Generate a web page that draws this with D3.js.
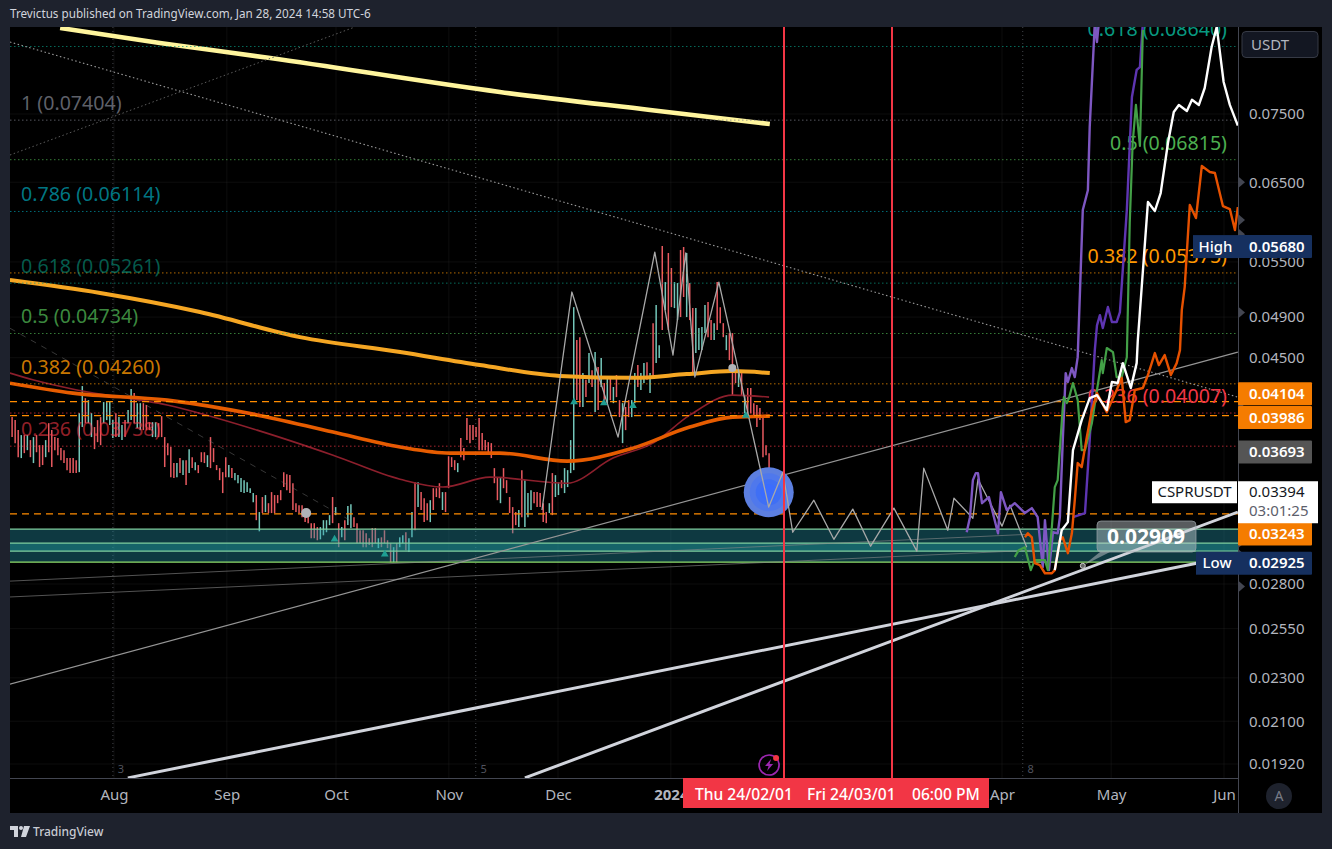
<!DOCTYPE html>
<html><head><meta charset="utf-8">
<script src="https://cdn.jsdelivr.net/npm/d3@7/dist/d3.min.js"></script>
<style>html,body{margin:0;padding:0;background:#1e222d;overflow:hidden}svg{display:block}text{font-family:"Noto Sans",sans-serif}</style>
</head><body><svg id="c" width="1332" height="849"></svg>
<script>
// Time is in days since 1 Aug 2023, prices in USDT.
const monthTicks=[{d:0,t:"Aug"},{d:31,t:"Sep"},{d:61,t:"Oct"},{d:92,t:"Nov"},{d:122,t:"Dec"},{d:153,t:"2024",b:1},{d:244,t:"Apr"},{d:274,t:"May"},{d:305,t:"Jun"}];
const priceTicks=[0.075,0.065,0.055,0.049,0.045,0.028,0.0255,0.023,0.021,0.0192];
const candleFirstDay=-28, candleLastDay=180;
const candles=[[.03973,.0381],[.03948,.03762],[.03866,.03653],[.03826,.03646],[.03826,.03684],[.03826,.03707],[.03786,.03653],[.0381,.03608],[.03826,.03691],[.03746,.03578],
[.03746,.03593],[.03786,.03653],[.03923,.03691],[.03866,.03578],[.0381,.03707],[.03802,.03668],[.03723,.0363],[.03707,.03608],[.03646,.03555],[.03646,.03533],
[.03646,.03533],[.0363,.03533],[.04006,.0354],[.0424,.03891],[.04134,.03923],[.04117,.03923],[.04006,.0381],[.03891,.03715],[.03948,.0377],[.03973,.03746],
[.041,.03923],[.041,.03948],[.041,.03907],[.03948,.03802],[.04006,.0381],[.03973,.0381],[.03907,.03786],[.03948,.0381],[.04032,.03923],[.04213,.03948],
[.04178,.03923],[.04091,.03883],[.04091,.03866],[.04091,.03866],[.04075,.03866],[.03931,.03866],[.03931,.0381],[.03931,.0381],[.03923,.0381],[.03981,.0381],
[.0381,.03578],[.03762,.03668],[.03731,.03503],[.03608,.03496],[.03608,.03503],[.03646,.03533],[.0363,.03518],[.0363,.03445],[.03715,.03533],[.03653,.0357],
[.03615,.03555],[.03593,.03533],[.03691,.03615],[.03691,.03608],[.03668,.03578],[.0381,.0357],[.03723,.03615],[.03593,.03555],[.0357,.03481],[.0354,.03388],
[.03653,.03503],[.03593,.03503],[.0357,.03496],[.03533,.03481],[.03518,.03459],[.03496,.03395],[.03481,.03388],[.03466,.03395],[.03423,.03388],[.03388,.03324],
[.03374,.03201],[.03256,.03127],[.0336,.03249],[.03374,.03256],[.03317,.03249],[.03395,.03249],[.03374,.03249],[.03374,.03317],[.03409,.03338],[.0354,.03431],
[.03525,.03409],[.03518,.03388],[.03459,.0327],[.03317,.03256],[.03303,.03249],[.03303,.03221],[.03256,.03188],[.03256,.03181],[.03181,.03082],[.03181,.03082],
[.03155,.03069],[.03155,.03075],[.03201,.03101],[.03201,.03121],[.03235,.03168],[.0336,.03181],[.0329,.03235],[.03181,.03025],[.03155,.03088],[.03201,.03069],
[.03297,.03168],[.0331,.03148],[.03221,.03155],[.03181,.0305],[.03134,.0305],[.03134,.03025],[.03114,.03025],[.03082,.03038],[.03148,.03025],[.03148,.0305],
[.03082,.03019],[.03088,.03025],[.03134,.0305],[.03069,.03019],[.0305,.02931],[.03025,.02931],[.0305,.02931],[.03088,.03025],[.03101,.0305],[.03121,.03006],
[.03082,.02994],[.03256,.03088],[.03466,.03134],[.03466,.0329],[.03395,.0327],[.03352,.03188],[.03317,.03201],[.03338,.03188],[.03423,.0327],[.03423,.0336],
[.03459,.03352],[.03395,.0327],[.03395,.03256],[.0366,.03423],[.03653,.03578],[.0363,.03555],[.03608,.0354],[.03802,.03653],[.03723,.0363],[.03965,.03786],
[.03907,.03762],[.03907,.03786],[.03891,.0381],[.03965,.03707],[.03842,.03707],[.03786,.03707],[.0377,.03684],[.03762,.03646],[.0357,.03459],[.03503,.03338],
[.03503,.03317],[.0357,.03423],[.03481,.03388],[.0336,.03249],[.0329,.03114],[.03256,.03168],[.0327,.03155],[.03555,.03221],[.03481,.03155],[.03388,.03221],
[.03409,.0327],[.03395,.03317],[.03395,.0329],[.03388,.0329],[.03317,.03188],[.03256,.03181],[.03317,.03249],[.03533,.03235],[.03518,.0336],[.03466,.03374],
[.03481,.03423],[.0357,.03388],[.03555,.03431],[.03786,.03533],[.05003,.03555],[.04669,.04117],[.04698,.04058],[.04357,.04058],[.04296,.04143],[.04544,.04267],
[.04383,.04232],[.04553,.04015],[.04412,.04032],[.04496,.04232],[.04267,.04117],[.04321,.04091],[.04321,.04117],[.04232,.04091],[.04339,.04143],[.04117,.03973],
[.04091,.03762],[.04058,.03866],[.04117,.03973],[.04117,.03973],[.04357,.04091],[.04431,.04232],[.04357,.04205],[.04449,.04267],[.04458,.04296],[.04357,.04178],
[.04838,.04321],[.05025,.04449],[.0462,.04496],[.05687,.04768],[.05273,.04972],[.05604,.04768],[.05431,.05003],[.05273,.04993],[.05262,.04869],[.05639,.049],
[.05675,.0511],[.05604,.049],[.05262,.04869],[.04993,.04357],[.04993,.04544],[.04788,.04572],[.04798,.04572],[.05025,.04738],[.05056,.04698],[.04869,.04669],
[.04838,.04669],[.05273,.04768],[.05003,.04838],[.04838,.04698],[.04718,.04572],[.04738,.04477],[.04738,.0416],[.04403,.04267],[.04366,.04232],[.04357,.0416],
[.0416,.04006],[.04223,.03965],[.04223,.04006],[.04091,.03973],[.04075,.03891],[.04049,.03948],[.03973,.03653],[.03746,.03668],[.03684,.03303]];
const candleDirs=["dddudududdduddddddddddu","uduuddduuuuduuduuduuddduudd","ddddududududdduddddddudu","uuuuuudududdddddddddddddd","dduuuudududuudddddddduddd","duduuduududdduddduddddudd",
"dddddddddddudddddudu","uudddddudu","uduuuuddud","ududududud","dudduuduud","uduududduu","ddudduuuud","dudddudddu","duddddddd"].join("").split("");
const yellowMA=[[-14.8,.08982],[12.6,.08704],[42.9,.08434],[106,.07854],[147.3,.07563],[180.2,.07344]];
const goldMA=[[-28.6,.05295],[-3.8,.05153],[23.6,.04952],[51.1,.04698],[78.6,.04553],[100.5,.04431],[122.5,.04331],[142.6,.04314],[157.4,.04348],[170,.04375],[180.2,.04357]];
const orangeMA=[[-28.6,.04266],[-11.3,.04178],[14.6,.04117],[38.2,.03998],[60.2,.0385],[78.6,.03731],[92.3,.03684],[106,.03684],[124.5,.03623],[142.6,.03723],[158.2,.03891],[170,.03973],[180.2,.03981]];
const darkRedMA=[[-28.6,.04357],[-22.3,.04296],[-10.2,.04205],[14.6,.04075],[39.3,.03866],[60.2,.03668],[78.6,.03488],[90.4,.03431],[103.3,.03503],[124.5,.03459],[137.1,.03646],[148.1,.03762],[158.2,.03989],[170,.0416],[180,.04143]];
const zigzag=[[117.6,.0327],[125.8,.05164],[138.5,.0381],[148.6,.05615],[153.6,.04525],[157.1,.05604],[159.6,.04321],[166.2,.05273],[179.9,.0329],[183.8,.0354],[186.5,.03121],[192.3,.03338],[197.8,.03075],[203,.03276],[207.9,.03031],[214.3,.03283],[220.6,.03],[222.5,.0357],[229.1,.03134],[230.8,.03352],[236,.03214],[237.4,.03488],[244,.03161],[246.2,.03303],[250.8,.03025]];
const purpleA=[[234.3,.03121],[235.2,.03221],[236,.03481],[236.8,.03533],[237.4,.03533],[238.5,.03317],[240.4,.0336],[242.9,.03114],[243.7,.03395],[245.3,.0327],[247.5,.03317],[250.3,.03249],[252.2,.03283],[253.8,.03221],[255.2,.02901],[255.8,.03201],[256.9,.02883],[258,.03121],[259.3,.03114],[259.9,.03221],[260.7,.03786],[261.5,.04357],[262.1,.04276],[263.2,.04403],[264,.04321],[264.8,.04505],[266.2,.06132],[267.6,.06392],[268.1,.07298],[269.5,.09076],[270.1,.08722],[270.6,.09076]];
const purpleB=[[263.5,.03221],[266.8,.03249],[268.1,.03786],[269.5,.04572],[270.1,.04816],[270.9,.0492],[271.7,.04788],[273.1,.05004],[274.2,.04849],[275.5,.04849],[276.4,.04952],[278.3,.06132],[279.7,.07772],[281,.08225],[281.9,.08276],[282.7,.09076]];
const greenPath=[[247.5,.02963],[248.6,.03006],[250.3,.03025],[251.9,.02883],[253,.02944],[255.8,.02944],[256.6,.02883],[257.7,.03155],[258.5,.03431],[259.3,.03481],[260.7,.04058],[261,.04143],[261.8,.04091],[262.4,.04134],[263.5,.04267],[264.8,.04117],[265.9,.03707],[266.8,.03707],[268.7,.03923],[270.1,.04205],[271.4,.04477],[271.7,.04357],[272.8,.04592],[274.5,.04553],[275.5,.04321],[276.9,.04321],[278.3,.04505],[279.1,.05967],[279.9,.07058],[280.8,.07644],[281.9,.07014],[282.7,.08945]];
const orangePath=[[250.3,.03088],[251.1,.03114],[252.2,.03088],[253,.02925],[254.4,.02913],[255.8,.02864],[257.7,.02864],[258.5,.02883],[259.9,.03069],[260.7,.03088],[262.1,.02987],[263.2,.03114],[264,.03338],[264.8,.03608],[265.9,.03578],[267.3,.0381],[268.7,.04032],[270.1,.04178],[272.8,.04015],[275.5,.04205],[276.9,.04314],[278,.03931],[279.1,.03948],[280.5,.04205],[282.7,.04223],[284.1,.04339],[286,.04544],[287.1,.04431],[288.7,.04525],[290.4,.04339],[292,.04449],[292.9,.04572],[293.4,.04972],[294.2,.05218],[295.6,.06197],[297.3,.0603],[298.9,.06725],[301.1,.06642],[302.5,.06628],[304.7,.06184],[306.6,.06145],[308,.05881],[308.8,.06171]];
const whitePath=[[258.5,.02883],[260.4,.03134],[262.1,.03188],[263.5,.03707],[265.9,.03948],[268.1,.04134],[270.1,.0416],[272.8,.04032],[274.2,.04276],[275.8,.04267],[277.2,.04449],[279.4,.04223],[281,.04449],[281.3,.04658],[284.1,.06236],[286,.0612],[287.6,.06355],[289.6,.07058],[291.2,.07532],[292.6,.07644],[294.8,.07548],[296.2,.07726],[298.1,.07644],[299.7,.0792],[301.6,.08631],[303,.09001],[304.9,.0802],[306.6,.07644],[308.8,.0732]];
const thickLineA=[[3.8,.01865],[297.5,.02925]], thickLineB=[[112.9,.01865],[308.8,.03256]], thinLineC=[[-28.6,.0227],[308.8,.04553]];
const dottedLineA=[[-28.6,.08722],[308.8,.04143]], dottedLineB=[[-28.6,.06882],[66.2,.09001]];
const greyLineA=[[-28.6,.02817],[251.6,.03108]], greyLineB=[[-28.6,.02725],[253,.03006]], dashedDim=[[-28.6,.04787],[64.8,.03201]];
const fibLeft=[{r:"1",p:.07404,c:"#787b86"},{r:"0.786",p:.06114,c:"#0097a7"},{r:"0.618",p:.05261,c:"#089981"},{r:"0.5",p:.04734,c:"#4caf50"},{r:"0.382",p:.0426,c:"#ff9800"},{r:"0.236",p:.03738,c:"#f23645"}];
const fibRight=[{r:"0.618",p:.0864,c:"#089981"},{r:"0.5",p:.06815,c:"#4caf50"},{r:"0.382",p:.05375,c:"#ff9800"},{r:"0.236",p:.04007,c:"#f23645"}];
const dashedLevels=[.04104,.03986,.03243];
const zonePrices=[.03141,.0305,.03,.02931];
const redLineDays=[184,213.75];
const sessionBreaks=[{d:-0.3,t:"3"},{d:99.4,t:"5"},{d:249.7,t:"8"}];
const triangleMarks=[[60.6,.03075],[74.4,.0298],[126.4,.04101],[134.6,.04093],[142.6,.04068],[173.6,.03986]];
const circleMarks=[[52.8,.0325,5],[169.9,.04403,4]];
const axisTriangles=[.0650,.06005,.0583,.0568,.04947,.04083,.03998,.03174,.03057,.02975,.02895,.02785];

const W=1332,H=849,L=10,R=1238,T=27,B=778;
const x=d3.scaleLinear().domain([0,305]).range([114,1224]);
const y=d3.scaleLog().domain([.075,.0192]).range([114,764]);
const candleX=d3.scaleLinear().domain([0,candles.length-1]).range([x(candleFirstDay),x(candleLastDay)]);
const svg=d3.select("#c");
svg.append("rect").attr("width",W).attr("height",H).attr("fill","#1e222d");
svg.append("rect").attr("x",L).attr("y",T).attr("width",1322-L).attr("height",813-T).attr("fill","#000");
svg.append("defs").append("clipPath").attr("id","pl").append("rect").attr("x",L).attr("y",T).attr("width",R-L).attr("height",B-T);
const g=svg.append("g").attr("clip-path","url(#pl)");
// grid
g.selectAll(".gy").data(priceTicks).join("line").attr("x1",L).attr("x2",R).attr("y1",d=>y(d)).attr("y2",d=>y(d)).attr("stroke","#fff").attr("stroke-opacity",.05);
g.selectAll(".gx").data(monthTicks).join("line").attr("x1",d=>x(d.d)).attr("x2",d=>x(d.d)).attr("y1",T).attr("y2",B).attr("stroke","#fff").attr("stroke-opacity",.05);
g.selectAll(".sb").data(sessionBreaks).join("line").attr("x1",d=>x(d.d)).attr("x2",d=>x(d.d)).attr("y1",T).attr("y2",B).attr("stroke","#787b86").attr("stroke-opacity",.55).attr("stroke-dasharray","1 3");
g.selectAll(".sbt").data(sessionBreaks).join("text").attr("x",d=>x(d.d)+8).attr("y",d=>773).attr("fill","#50535e").attr("font-size",11).attr("text-anchor","middle").text(d=>d.t);
// candles
g.selectAll(".cd").data(candles).join("line").attr("x1",(d,i)=>candleX(i)).attr("x2",(d,i)=>candleX(i)).attr("y1",d=>y(d[0])).attr("y2",d=>y(d[1]))
 .attr("stroke",(d,i)=>candleDirs[i]==="u"?"#74c7ba":"#e85a60").attr("stroke-width",1.5);
const line=d3.line().x(d=>x(d[0])).y(d=>y(d[1]));
const smooth=d3.line().x(d=>x(d[0])).y(d=>y(d[1])).curve(d3.curveMonotoneX);
function path(data,color,w,extra,gen){const p=g.append("path").attr("d",(gen||line)(data)).attr("fill","none").attr("stroke",color).attr("stroke-width",w).attr("stroke-linejoin","round");if(extra)extra(p);return p;}
path(dashedDim,"#777",1,p=>p.attr("stroke-dasharray","6 6").attr("stroke-opacity",.45));
path(darkRedMA,"#8c1f2c",1.6,null,smooth);
path(orangeMA,"#e65c00",3.6,null,smooth);
path(goldMA,"#f5a623",4,null,smooth);
path(yellowMA,"#fff59d",4.6,null,smooth);
// zone
const zx=L,zw=R-L;
g.append("rect").attr("x",zx).attr("width",zw).attr("y",y(zonePrices[0])).attr("height",y(zonePrices[3])-y(zonePrices[0])).attr("fill","rgb(38,150,170)").attr("fill-opacity",.38);
g.append("rect").attr("x",zx).attr("width",zw).attr("y",y(zonePrices[1])).attr("height",y(zonePrices[2])-y(zonePrices[1])).attr("fill","rgb(38,170,170)").attr("fill-opacity",.38);
g.selectAll(".zl").data(zonePrices).join("line").attr("x1",zx).attr("x2",R).attr("y1",d=>y(d)).attr("y2",d=>y(d)).attr("stroke",(d,i)=>i===3?"#8fdc6a":"#7fcf9f").attr("stroke-width",1.3);
// fib levels
[...fibLeft,...fibRight].forEach(f=>g.append("line").attr("x1",L).attr("x2",R).attr("y1",y(f.p)).attr("y2",y(f.p)).attr("stroke",f.c).attr("stroke-dasharray","1.5 2.5").attr("stroke-opacity",.7));
g.selectAll(".dl").data(dashedLevels).join("line").attr("x1",L).attr("x2",R).attr("y1",d=>y(d)).attr("y2",d=>y(d)).attr("stroke","#ff8c00").attr("stroke-width",1.3).attr("stroke-dasharray","7 5");
// trend lines
path(dottedLineA,"#9a9a9a",1.1,p=>p.attr("stroke-dasharray","1.5 2.5"));
path(dottedLineB,"#5c5c5c",1,p=>p.attr("stroke-dasharray","1.5 2.5"));
path(greyLineA,"#8a8a8a",1,p=>p.attr("stroke-opacity",.6));
path(greyLineB,"#8a8a8a",1,p=>p.attr("stroke-opacity",.6));
path(thinLineC,"#959595",1.2);
// blue circle sits on the last price
const blue=[redLineDays[0]-4.1,.03394];
[[25,"#5c7fe0"],[19,"#4f78ec"],[13,"#3f6ff5"],[8,"#3a6cff"]].forEach(c=>g.append("circle").attr("cx",x(blue[0])).attr("cy",y(blue[1])).attr("r",c[0]).attr("fill",c[1]));
// fib labels
fibLeft.forEach(f=>g.append("text").attr("x",21).attr("y",y(f.p)-17).attr("dy",".35em").attr("font-size",19.6).attr("fill",f.c).attr("fill-opacity",f.r==="0.236"?.62:(f.r==="1"?.8:(f.r==="0.618"?.6:.8))).text(`${f.r} (${f.p.toFixed(5)})`));
fibRight.forEach(f=>g.append("text").attr("x",1227).attr("y",y(f.p)-17).attr("dy",".35em").attr("text-anchor","end").attr("font-size",19.6).attr("fill",f.c).text(`${f.r} (${f.p.toFixed(5)})`));
// zigzag and coloured projections
path(zigzag,"#a9a9a9",1.3);
path(purpleA,"#7e57c2",2.4);
path(purpleB,"#5e35b1",2.4);
path(greenPath,"#43a047",2.2);
path(orangePath,"#e65100",2.4);
path(whitePath,"#ffffff",2.4);
// markers
g.selectAll(".tr").data(triangleMarks).join("path").attr("d",d3.symbol(d3.symbolTriangle,26)).attr("transform",d=>`translate(${x(d[0])},${y(d[1])})`).attr("fill","#1f9e92");
g.selectAll(".cm").data(circleMarks).join("circle").attr("cx",d=>x(d[0])).attr("cy",d=>y(d[1])).attr("r",d=>d[2]).attr("fill","#b0b3b8");
// thick lines
path(thickLineB,"#d1d4dc",3);
path(thickLineA,"#d1d4dc",3);
// red lines (snapped to whole pixels so they stay crisp)
g.selectAll(".rl").data(redLineDays).join("line").attr("x1",d=>Math.round(x(d))).attr("x2",d=>Math.round(x(d))).attr("y1",T).attr("y2",B).attr("stroke","#f23645").attr("stroke-width",2);
// callout
g.append("path").attr("d",d3.line()([[x(266.2),y(.02909)],[1110,552],[1100,552]])).attr("fill","#b5bcc0").attr("fill-opacity",.55);
g.append("circle").attr("cx",x(266.2)).attr("cy",y(.02909)).attr("r",2.5).attr("fill","#666").attr("stroke","#ccc");
g.append("rect").attr("x",1097).attr("y",521).attr("width",99).attr("height",31).attr("rx",4).attr("fill","#c4cdd1").attr("fill-opacity",.45).attr("stroke","#9aa3a8").attr("stroke-opacity",.7);
g.append("text").attr("x",1146).attr("y",536.5).attr("dy",".35em").attr("text-anchor","middle").attr("font-size",21).attr("font-weight",700).attr("fill","#fff").text("0.02909");
// lightning icon
const ic=g.append("g").attr("transform",`translate(${x(180)},765)`);
ic.append("circle").attr("r",10).attr("fill","none").attr("stroke","#9c27b0").attr("stroke-width",1.7);
ic.append("path").attr("d","M2-6 L-4 1 L-0.5 1 L-2 6 L4 -1 L0.5 -1 Z").attr("fill","#9c27b0");
ic.append("circle").attr("cx",7).attr("cy",-7).attr("r",3).attr("fill","#f23645");
// axes frames
svg.append("line").attr("x1",L).attr("x2",R).attr("y1",B+.5).attr("y2",B+.5).attr("stroke","#434651");
svg.append("line").attr("x1",R+.5).attr("x2",R+.5).attr("y1",T).attr("y2",813).attr("stroke","#434651");
// price axis
const yAxis=d3.axisRight(y).tickValues(priceTicks).tickFormat(d=>d.toFixed(5)).tickSize(0).tickPadding(11);
const ya=svg.append("g").attr("transform",`translate(${R},0)`).call(yAxis);
ya.select(".domain").remove();
ya.selectAll("text").attr("font-size",15).attr("fill","#b2b5be").style("font-family",'"Noto Sans",sans-serif');
svg.selectAll(".at").data(axisTriangles).join("path").attr("d",d=>`M${R},${y(d)-6}L${R+7},${y(d)}L${R},${y(d)+6}Z`).attr("fill","#434651");
// time axis
const xAxis=d3.axisBottom(x).tickValues(monthTicks.map(d=>d.d)).tickFormat(d=>monthTicks.find(m=>m.d===d).t).tickSize(0).tickPadding(11);
const xa=svg.append("g").attr("transform",`translate(0,${B})`).call(xAxis);
xa.select(".domain").remove();
xa.selectAll("text").attr("font-size",15).attr("fill","#b2b5be").style("font-family",'"Noto Sans",sans-serif').attr("font-weight",d=>d===153?700:400);
// red time label
svg.append("rect").attr("x",683).attr("y",778).attr("width",306).attr("height",30).attr("fill","#f23645");
[["Thu 24/02/01",695],["Fri 24/03/01",807],["06:00 PM",912]].forEach(t=>svg.append("text").attr("x",t[1]).attr("y",795).attr("dy",".35em").attr("font-size",15.6).attr("font-weight",500).attr("fill","#fff").text(t[0]));
// price pills
const pills=[{p:.0568,t:"0.05680",f:"#16305f",c:"#fff",dy:0},{p:.04104,t:"0.04104",f:"#f57c00",c:"#fff",dy:-8},{p:.03986,t:"0.03986",f:"#f57c00",c:"#fff",dy:2},{p:.03693,t:"0.03693",f:"#555555",c:"#fff",dy:0},{p:.03243,t:"0.03243",f:"#f57c00",c:"#fff",dy:20},{p:.02925,t:"0.02925",f:"#16305f",c:"#fff",dy:0}];
pills.forEach(q=>{const cy=y(q.p)+q.dy;svg.append("rect").attr("x",R).attr("y",cy-11.5).attr("width",74).attr("height",23).attr("rx",1).attr("fill",q.f);
 svg.append("text").attr("x",R+11).attr("y",cy).attr("dy",".35em").attr("font-size",15).attr("font-weight",600).attr("fill",q.c).text(q.t);});
[{t:"High",p:.0568,x0:1193},{t:"Low",p:.02925,x0:1196}].forEach(q=>{svg.append("rect").attr("x",q.x0).attr("y",y(q.p)-11.5).attr("width",R-q.x0).attr("height",23).attr("fill","#16305f");
 svg.append("text").attr("x",(q.x0+R)/2).attr("y",y(q.p)).attr("dy",".35em").attr("text-anchor","middle").attr("font-size",15).attr("font-weight",500).attr("fill","#fff").text(q.t);});
const lastPrice=.03394, ly=y(lastPrice);
svg.append("rect").attr("x",R).attr("y",ly-11).attr("width",80).attr("height",42).attr("fill","#fff");
svg.append("text").attr("x",R+11).attr("y",ly).attr("dy",".35em").attr("font-size",15).attr("fill","#131722").text(lastPrice.toFixed(5));
svg.append("text").attr("x",R+11).attr("y",ly+19).attr("dy",".35em").attr("font-size",15).attr("fill","#5d606b").text("03:01:25");
svg.append("rect").attr("x",1152).attr("y",ly-11).attr("width",85).attr("height",22).attr("fill","#fff");
svg.append("text").attr("x",1194.5).attr("y",ly).attr("dy",".35em").attr("text-anchor","middle").attr("font-size",15).attr("fill","#131722").text("CSPRUSDT");
// USDT button and auto
svg.append("rect").attr("x",1242).attr("y",31.5).attr("width",76).attr("height",26).attr("rx",4).attr("fill","#131722").attr("stroke","#363a45");
svg.append("text").attr("x",1251).attr("y",44.5).attr("dy",".35em").attr("font-size",15).attr("fill","#b2b5be").text("USDT");
svg.append("circle").attr("cx",1279).attr("cy",796).attr("r",13).attr("fill","#1e222d");
svg.append("text").attr("x",1279).attr("y",796).attr("dy",".35em").attr("text-anchor","middle").attr("font-size",14).attr("fill","#787b86").text("A");
// header and footer
svg.append("text").attr("x",10).attr("y",14).attr("dy",".35em").attr("font-size",11.7).attr("fill","#d1d4dc").text("Trevictus published on TradingView.com, Jan 28, 2024 14:58 UTC-6");
svg.append("path").attr("d","M10 826H18V837H14V830H10ZM24 826H30L26 837H21Z").attr("fill","#d1d4dc");
svg.append("circle").attr("cx",21).attr("cy",828).attr("r",2).attr("fill","#d1d4dc");
svg.append("text").attr("x",33).attr("y",831.5).attr("dy",".35em").attr("font-size",12).attr("font-weight",500).attr("fill","#c8cbd3").text("TradingView");
</script></body></html>
